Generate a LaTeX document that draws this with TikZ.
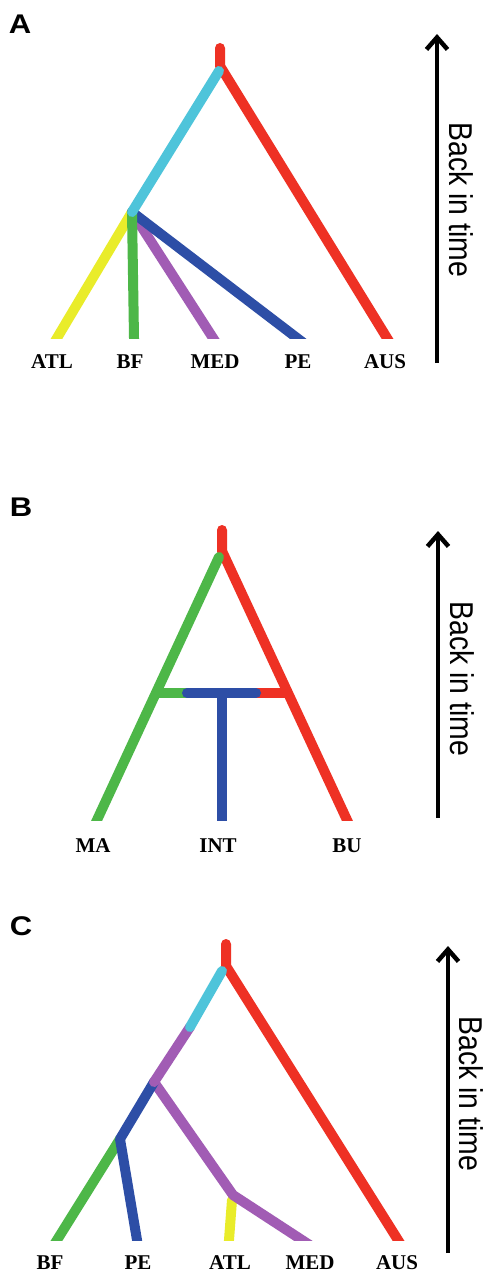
\documentclass[tikz,border=0pt]{standalone}
\usepackage{fontspec}
\setmainfont{Liberation Serif}
\setsansfont{Liberation Sans}
\usetikzlibrary{arrows.meta}
\definecolor{cred}{HTML}{EE3124}
\definecolor{ccyan}{HTML}{4EC4DA}
\definecolor{cyellow}{HTML}{E9EC2A}
\definecolor{cgreen}{HTML}{4DB748}
\definecolor{cpurple}{HTML}{A15CB4}
\definecolor{cblue}{HTML}{2D4EA6}
\tikzset{
  br/.style={line width=10pt,line cap=round,line join=round},
  tip/.style={br,shorten >=-10pt},
  lab/.style={font=\fontsize{21}{21}\selectfont\bfseries,inner sep=0pt,anchor=center},
  panel/.style={font=\sffamily\bfseries\fontsize{27}{27}\selectfont,inner sep=0pt,anchor=center,xscale=1.15},
  timearrow/.style={line width=4.5pt,-{Straight Barb[length=12pt,width=21pt,line width=4.5pt]}},
  timetext/.style={font=\sffamily\fontsize{33}{33}\selectfont,rotate=-90,inner sep=0pt,anchor=center,xscale=0.86}
}
\begin{document}
\begin{tikzpicture}[x=1pt,y=-1pt]
\useasboundingbox[fill=white] (0,0) rectangle (483,1273);

% ---------------- Panel A ----------------
\node[panel] (pA) at (20,24) {A};
\coordinate (aTop) at (220,48);
\coordinate (aR) at (220,66);
\coordinate (aC) at (219,71);
\coordinate (aN) at (132,212);
\coordinate (aATL) at (57,338);
\coordinate (aBF) at (134,338);
\coordinate (aMED) at (213,338);
\coordinate (aPE) at (297,338);
\coordinate (aAUS) at (387,338);
\begin{scope}
\clip (0,0) rectangle (420,338);
\draw[tip,cred] (aTop) -- (aR) -- (aAUS);
\draw[tip,cyellow] (aN) -- (aATL);
\draw[tip,cpurple] (aN) -- (aMED);
\draw[tip,cblue] (aN) -- (aPE);
\draw[tip,cgreen] (aN) -- (aBF);
\draw[br,ccyan] (aC) -- (aN);
\end{scope}
\node[lab] (lATL) at (52,362) {ATL};
\node[lab] (lBF) at (130,362) {BF};
\node[lab] (lMED) at (215,362) {MED};
\node[lab] (lPE) at (298,362) {PE};
\node[lab] (lAUS) at (385,362) {AUS};
\coordinate (aArB) at (437,363);
\coordinate (aArT) at (437,34);
\draw[timearrow] (aArB) -- (aArT);
\node[timetext] (tA) at (461,200) {Back in time};

% ---------------- Panel B ----------------
\node[panel] (pB) at (21,507) {B};
\coordinate (bTop) at (222,530);
\coordinate (bR) at (222,551);
\coordinate (bG) at (219,557);
\coordinate (bMA) at (97,820);
\coordinate (bBU) at (347,820);
\coordinate (bHL) at (157,693);
\coordinate (bHb1) at (187,693);
\coordinate (bHb2) at (256,693);
\coordinate (bHR) at (288,693);
\coordinate (bJ) at (222,693);
\coordinate (bINT) at (222,820);
\begin{scope}
\clip (0,420) rectangle (420,820);
\draw[tip,cred] (bTop) -- (bR) -- (bBU);
\draw[tip,cgreen] (bG) -- (bMA);
\draw[line width=10pt,cgreen] (bHL) -- (bHb1);
\draw[line width=10pt,cred] (bHb2) -- (bHR);
\draw[tip,cblue] (bJ) -- (bINT);
\draw[br,cblue] (bHb1) -- (bHb2);
\end{scope}
\node[lab] (lMA) at (93,846) {MA};
\node[lab] (lINT) at (218,846) {INT};
\node[lab] (lBU) at (347,846) {BU};
\coordinate (bArB) at (438,818);
\coordinate (bArT) at (438,531);
\draw[timearrow] (bArB) -- (bArT);
\node[timetext] (tB) at (462,679) {Back in time};

% ---------------- Panel C ----------------
\node[panel] (pC) at (21,926) {C};
\coordinate (cTop) at (226,944);
\coordinate (cR) at (226,966);
\coordinate (cC) at (222,971);
\coordinate (cCP) at (190,1027);
\coordinate (cN1) at (154,1082);
\coordinate (cN2) at (120,1139);
\coordinate (cN3) at (233,1195);
\coordinate (cY) at (232,1200);
\coordinate (cBF) at (57,1240);
\coordinate (cPE) at (137,1240);
\coordinate (cATL) at (229,1240);
\coordinate (cMED) at (302,1240);
\coordinate (cAUS) at (398,1240);
\begin{scope}
\clip (0,860) rectangle (420,1240);
\draw[tip,cred] (cTop) -- (cR) -- (cAUS);
\draw[tip,cyellow] (cY) -- (cATL);
\draw[tip,cpurple] (cN1) -- (cN3) -- (cMED);
\draw[tip,cgreen] (cN2) -- (cBF);
\draw[tip,cblue] (cN1) -- (cN2) -- (cPE);
\draw[br,cpurple] (cCP) -- (cN1);
\draw[br,ccyan] (cC) -- (cCP);
\end{scope}
\node[lab] (lBF2) at (50,1263) {BF};
\node[lab] (lPE2) at (138,1263) {PE};
\node[lab] (lATL2) at (230,1263) {ATL};
\node[lab] (lMED2) at (310,1263) {MED};
\node[lab] (lAUS2) at (397,1263) {AUS};
\coordinate (cArB) at (448,1253);
\coordinate (cArT) at (448,946);
\draw[timearrow] (cArB) -- (cArT);
\node[timetext] (tC) at (471,1094) {Back in time};
\end{tikzpicture}
\end{document}
